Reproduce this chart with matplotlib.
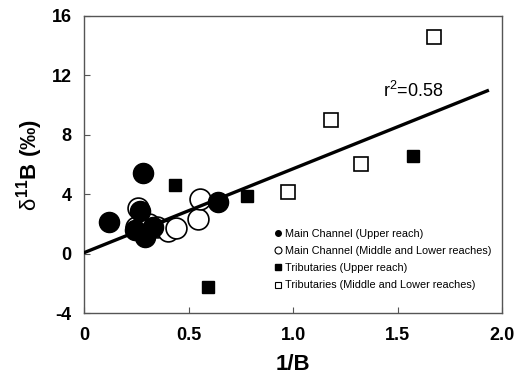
import matplotlib
matplotlib.use('Agg')
import matplotlib.pyplot as plt
from matplotlib.lines import Line2D

plt.rcParams['font.family'] = ['Liberation Sans', 'DejaVu Sans']
plt.rcParams['mathtext.fontset'] = 'custom'
plt.rcParams['mathtext.rm'] = 'Liberation Sans:bold'
plt.rcParams['mathtext.it'] = 'Liberation Sans'
plt.rcParams['mathtext.bf'] = 'Liberation Sans:bold'
plt.rcParams['mathtext.sf'] = 'Liberation Sans'
plt.rcParams['axes.unicode_minus'] = False

# main channel, upper reach (filled circles)
mc_up_x = [0.12, 0.28, 0.27, 0.29, 0.33, 0.245, 0.64]
mc_up_y = [2.1, 5.4, 2.9, 1.1, 1.8, 1.6, 3.5]
# main channel, middle and lower reaches (open circles)
mc_low_x = [0.26, 0.25, 0.31, 0.35, 0.40, 0.44, 0.545, 0.555]
mc_low_y = [3.05, 1.8, 2.0, 1.8, 1.5, 1.7, 2.3, 3.7]
# tributaries, upper reach (filled squares)
tr_up_x = [0.435, 0.78, 0.595, 1.575]
tr_up_y = [4.6, 3.9, -2.25, 6.6]
# tributaries, middle and lower reaches (open squares)
tr_low_x = [0.975, 1.18, 1.325, 1.675]
tr_low_y = [4.15, 9.0, 6.0, 14.6]

# regression line
fit_x = [0.0, 1.93]
fit_slope = 5.65
fit_icpt = 0.06

labels = ['Main Channel (Upper reach)',
          'Main Channel (Middle and Lower reaches)',
          'Tributaries (Upper reach)',
          'Tributaries (Middle and Lower reaches)']

fig = plt.figure(figsize=(5.14, 3.84), dpi=100)
ax = fig.add_axes([84/514, 1-313/384, 418/514, 297/384])

ax.plot(mc_low_x, mc_low_y, 'o', ms=15, mfc='white', mec='black', mew=1.2, zorder=2)
ax.plot(fit_x, [fit_icpt + fit_slope*v for v in fit_x], '-', color='black', lw=2.4, zorder=3)
ax.plot(mc_up_x, mc_up_y, 'o', ms=14.5, mfc='black', mec='black', zorder=4)
ax.plot(tr_up_x, tr_up_y, 's', ms=9, mfc='black', mec='black', zorder=4)
ax.plot(tr_low_x, tr_low_y, 's', ms=10, mfc='white', mec='black', mew=1.2, zorder=4)

ax.text(1.43, 10.55, r'r$^{\mathsf{2}}$=0.58', fontsize=13)

ax.set_xlim(0, 2.0)
ax.set_ylim(-4, 16)
ax.set_xticks([0, 0.5, 1.0, 1.5, 2.0])
ax.set_xticklabels(['0', '0.5', '1.0', '1.5', '2.0'])
ax.set_yticks([-4, 0, 4, 8, 12, 16])
ax.set_yticklabels(['-4', '0', '4', '8', '12', '16'])
for lab in ax.get_xticklabels() + ax.get_yticklabels():
    lab.set_fontweight('bold')
ax.tick_params(axis='x', direction='in', length=4, labelsize=13, pad=10, color='#555555')
ax.tick_params(axis='y', direction='in', length=4, labelsize=13, pad=9, color='#555555')
for sp in ax.spines.values():
    sp.set_color('#555555')
    sp.set_linewidth(1)

ax.set_xlabel('1/B', fontsize=16, fontweight='bold', labelpad=7)
ax.set_ylabel(r'$\delta^{11}\mathrm{B\ (‰)}$', fontsize=16, fontweight='bold', labelpad=5)

handles = [
    Line2D([], [], ls='none', marker='o', ms=4, mfc='black', mec='black'),
    Line2D([], [], ls='none', marker='o', ms=5, mfc='white', mec='black', mew=0.8),
    Line2D([], [], ls='none', marker='s', ms=4, mfc='black', mec='black'),
    Line2D([], [], ls='none', marker='s', ms=5, mfc='white', mec='black', mew=0.8),
]
ax.legend(handles, labels, loc='upper left', bbox_to_anchor=(0.457, 0.283),
          frameon=False, fontsize=7.8, handlelength=0.6, handletextpad=0.3,
          labelspacing=0.66, borderpad=0, borderaxespad=0)

fig.savefig('out.png', dpi=100)
